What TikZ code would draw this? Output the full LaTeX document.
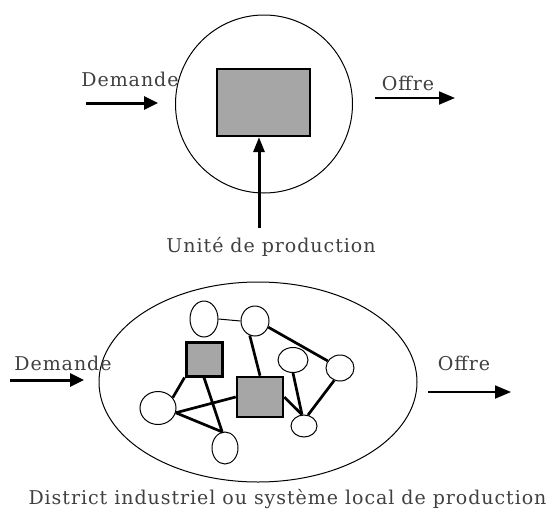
\documentclass[tikz,border=0pt]{standalone}
\usepackage{fontspec}
\setmainfont[LetterSpace=5]{DejaVu Serif}
\usetikzlibrary{arrows.meta,shapes.geometric}
\definecolor{boxgray}{HTML}{A6A6A6}
\begin{document}
\begin{tikzpicture}[x=1pt,y=-1pt,
  lbl/.style={font=\fontsize{19}{19}\selectfont, text=black!75, inner sep=0pt, anchor=center},
  ring/.style={ellipse, draw, line width=1pt, inner sep=0pt},
  firm/.style={draw, fill=boxgray, inner sep=0pt},
  link/.style={line width=2.7pt},
  thinlink/.style={line width=1pt},
  inarrow/.style={line width=3pt, -{Triangle[length=14pt,width=13pt]}},
  outarrow/.style={line width=1.8pt, -{Triangle[length=16pt,width=13pt]}}
]
\useasboundingbox (0,0) rectangle (552,509);
% ---------- top ----------
\node[ring, minimum width=177pt, minimum height=178pt] (c1) at (264,104) {};
\node[firm, line width=2.2pt, minimum width=93pt, minimum height=67pt] (u) at (263.5,102.5) {};
\coordinate (ubase) at (259,228);
\draw[line width=3pt, -{Triangle[length=15pt,width=11pt]}] (ubase) -- (ubase |- u.south);
\node[lbl] (dem1) at (130,79) {Demande};
\coordinate (d1a) at (86,103);
\coordinate (d1b) at (158,103);
\draw[inarrow] (d1a) -- (d1b);
\node[lbl] (off1) at (408,83) {Offre};
\coordinate (o1a) at (375,98);
\coordinate (o1b) at (455,98);
\draw[outarrow] (o1a) -- (o1b);
\node[lbl] (cap1) at (271,247) {Unité de production};
% ---------- bottom ----------
\node[ring, minimum width=318pt, minimum height=200pt] (c2) at (258,382) {};
\node[firm, line width=3pt, minimum width=36pt, minimum height=34pt] (r1) at (204,359) {};
\node[firm, line width=2.6pt, minimum width=46pt, minimum height=40pt] (r2) at (260,397) {};
\node[ring, minimum width=28pt, minimum height=36pt] (a) at (204,319) {};
\node[ring, minimum width=28pt, minimum height=30pt] (b) at (255,321) {};
\node[ring, minimum width=30pt, minimum height=25pt] (c) at (293,360) {};
\node[ring, minimum width=28pt, minimum height=26pt] (d) at (340,368) {};
\node[ring, minimum width=36pt, minimum height=33pt] (e) at (158,408) {};
\node[ring, minimum width=26pt, minimum height=32pt] (f) at (225,448) {};
\node[ring, minimum width=26pt, minimum height=22pt] (g) at (304,426) {};
\draw[thinlink] (a.east) -- (b.west);
\draw[link] (b.-25) -- (d.150);
\draw[link] (b.-110) -- (r2.north);
\draw[link] (r1.south west) -- (e.35);
\draw[link] (r1.south) -- (f.100);
\draw[link] (e.-15) -- (r2.west);
\draw[link] (e.-15) -- (f.100);
\draw[link] (r2.east) -- (g.100);
\draw[link] (c.south) -- (g.100);
\draw[link] (d.-115) -- (g.70);
\node[lbl] (dem2) at (63,363) {Demande};
\coordinate (d2a) at (10,380);
\coordinate (d2b) at (84,380);
\draw[inarrow] (d2a) -- (d2b);
\node[lbl] (off2) at (464,363) {Offre};
\coordinate (o2a) at (428,392);
\coordinate (o2b) at (511,392);
\draw[outarrow] (o2a) -- (o2b);
\node[lbl] (cap2) at (287.5,499) {District industriel ou système local de production};
\end{tikzpicture}
\end{document}
